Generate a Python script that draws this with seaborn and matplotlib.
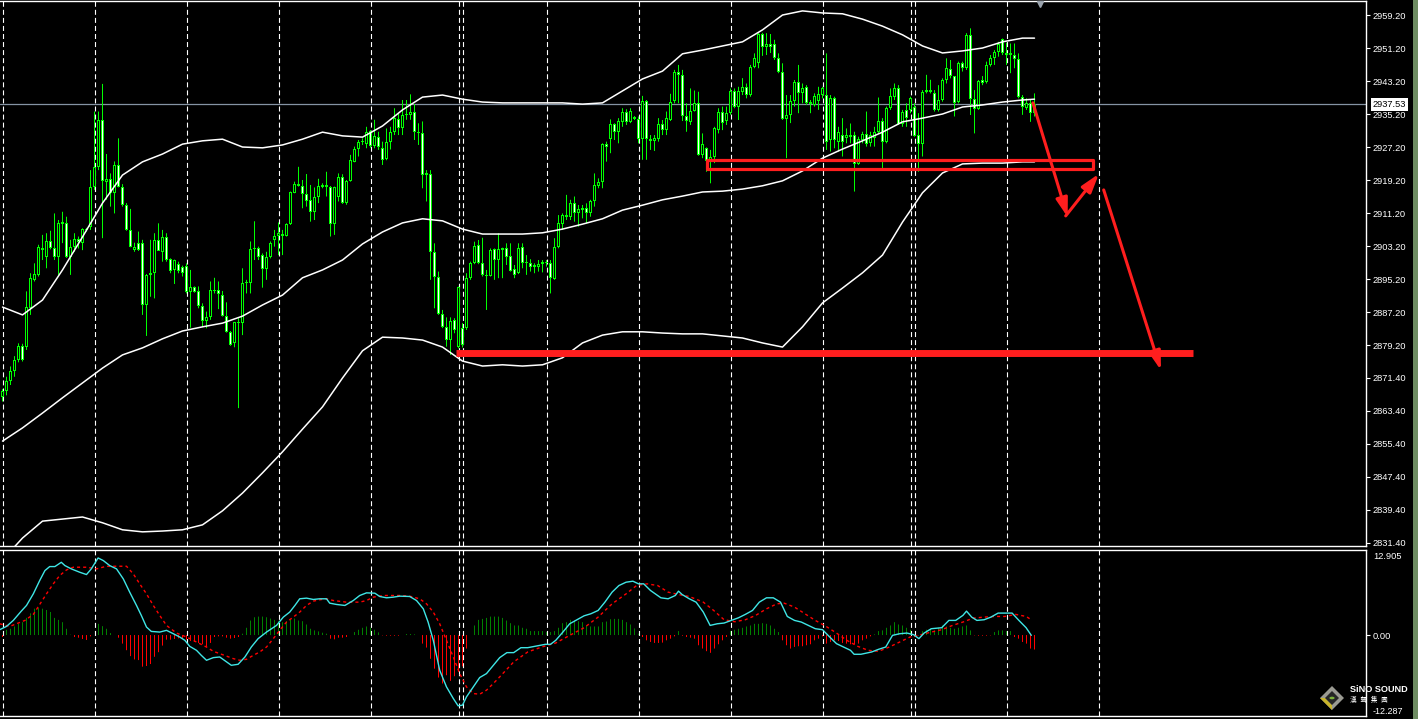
import numpy as np
import pandas as pd
import matplotlib
matplotlib.use("Agg")
import matplotlib.pyplot as plt
import seaborn as sns
from matplotlib.patches import Rectangle, Polygon, Circle
from matplotlib.transforms import blended_transform_factory

# ---- H1 candles (index 0..258) ----
opens = [
    2866.5, 2868.0, 2870.5, 2873.0, 2875.6, 2879.0, 2878.8, 2888.1, 2895.0, 2896.2,
    2902.8, 2900.6, 2904.4, 2902.6, 2900.6, 2908.5, 2908.7, 2900.6, 2902.9, 2904.9,
    2904.0, 2907.1, 2907.9, 2917.6, 2922.3, 2933.75, 2918.8, 2919.4, 2916.0, 2922.8,
    2917.6, 2913.15, 2907.1, 2902.2, 2904.0, 2904.0, 2888.9, 2896.2, 2896.6, 2904.7,
    2901.8, 2905.5, 2900.0, 2897.4, 2898.85, 2898.2, 2898.4, 2892.15, 2893.2, 2892.3,
    2888.75, 2885.1, 2885.9, 2892.5, 2892.5, 2891.3, 2886.3, 2882.4, 2879.6, 2884.7,
    2884.5, 2894.2, 2894.2, 2902.4, 2902.6, 2901.0, 2897.6, 2900.6, 2904.7, 2905.6,
    2906.1, 2905.7, 2908.5, 2916.1, 2918.2, 2917.8, 2915.8, 2914.4, 2911.4, 2915.0,
    2917.6, 2917.9, 2917.4, 2908.5, 2915.2, 2920.0, 2913.6, 2919.05, 2923.65, 2926.7,
    2928.5, 2927.9, 2931.1, 2927.5, 2929.7, 2926.9, 2924.2, 2928.5, 2930.8, 2934.0,
    2931.7, 2935.0, 2935.0, 2935.6, 2930.9, 2930.5, 2920.3, 2920.65, 2901.7, 2895.6,
    2886.7, 2883.5, 2880.3, 2885.25, 2878.8, 2883.25, 2883.25, 2895.4, 2899.0, 2903.45,
    2899.0, 2896.2, 2895.9, 2902.4, 2899.8, 2902.2, 2902.65, 2900.8, 2897.6, 2896.6,
    2903.05, 2899.2, 2899.0, 2898.0, 2898.0, 2898.8, 2899.25, 2899.0, 2895.2, 2902.9,
    2908.55, 2910.7, 2910.3, 2913.55, 2911.3, 2911.9, 2912.35, 2911.1, 2914.0, 2917.8,
    2918.65, 2927.9, 2929.2, 2932.8, 2930.9, 2933.2, 2935.8, 2933.2, 2934.4, 2933.9,
    2929.1, 2938.4, 2929.15, 2928.7, 2929.15, 2932.7, 2931.3, 2933.75, 2938.4, 2945.3,
    2944.7, 2934.8, 2933.2, 2936.0, 2937.8, 2925.3, 2926.9, 2923.7, 2924.9, 2931.3,
    2935.8, 2933.4, 2935.4, 2940.8, 2936.8, 2940.6, 2941.7, 2939.8, 2946.7, 2947.5,
    2954.6, 2951.4, 2952.2, 2952.2, 2948.7, 2945.5, 2933.9, 2935.0, 2938.4, 2943.0,
    2940.2, 2941.7, 2938.0, 2937.4, 2938.35, 2939.8, 2939.8, 2928.9, 2939.0, 2928.5,
    2930.1, 2929.5, 2930.1, 2930.1, 2923.1, 2928.9, 2930.35, 2928.1, 2929.5, 2930.9,
    2933.6, 2928.5, 2936.6, 2939.4, 2941.6, 2932.9, 2936.2, 2936.2, 2937.0, 2930.1,
    2927.85, 2940.6, 2941.0, 2940.4, 2936.2, 2938.6, 2943.45, 2946.0, 2944.3, 2938.2,
    2947.5, 2946.3, 2954.4, 2938.75, 2936.3, 2943.45, 2943.05, 2947.1, 2948.9, 2950.3,
    2953.4, 2949.9, 2949.5, 2949.5, 2948.5, 2939.4, 2936.6, 2937.95, 2935.5,
]
highs = [
    2868.5, 2871.5, 2874.0, 2876.5, 2879.6, 2879.5, 2892.2, 2896.6, 2899.0, 2903.5,
    2905.9, 2906.3, 2906.9, 2911.1, 2909.5, 2911.5, 2910.3, 2904.7, 2906.3, 2905.5,
    2907.5, 2907.6, 2921.6, 2935.8, 2935.8, 2942.5, 2925.5, 2920.8, 2923.7, 2929.3,
    2918.2, 2913.6, 2912.2, 2904.0, 2906.7, 2904.7, 2896.4, 2904.7, 2906.3, 2908.7,
    2907.1, 2906.3, 2900.2, 2899.9, 2899.4, 2898.45, 2899.0, 2897.4, 2893.4, 2893.4,
    2889.3, 2887.3, 2894.6, 2895.5, 2894.6, 2892.3, 2889.55, 2882.6, 2884.8, 2885.7,
    2897.8, 2895.0, 2904.3, 2909.2, 2903.05, 2901.4, 2901.8, 2904.3, 2907.1, 2908.9,
    2907.1, 2908.7, 2916.4, 2918.8, 2922.4, 2919.2, 2920.65, 2918.0, 2917.4, 2919.5,
    2918.4, 2921.2, 2917.75, 2917.6, 2920.8, 2920.6, 2919.2, 2925.3, 2927.3, 2928.9,
    2929.3, 2932.1, 2931.3, 2933.8, 2930.9, 2928.5, 2931.7, 2932.1, 2936.6, 2935.4,
    2938.6, 2938.6, 2939.97, 2937.6, 2932.95, 2933.4, 2921.6, 2921.6, 2903.85, 2897.0,
    2887.7, 2885.9, 2885.9, 2885.7, 2893.35, 2884.5, 2896.6, 2899.4, 2904.25, 2904.65,
    2905.2, 2897.4, 2902.6, 2902.6, 2906.3, 2902.8, 2903.85, 2903.85, 2898.6, 2903.85,
    2903.85, 2901.0, 2900.0, 2899.0, 2899.8, 2899.8, 2899.8, 2899.8, 2905.1, 2910.7,
    2911.1, 2915.6, 2914.4, 2915.2, 2913.15, 2913.15, 2913.55, 2914.4, 2920.8, 2919.6,
    2928.1, 2928.5, 2933.9, 2932.95, 2934.2, 2936.6, 2936.35, 2936.6, 2934.7, 2934.6,
    2939.6, 2938.6, 2930.1, 2930.1, 2934.2, 2933.75, 2935.8, 2940.1, 2945.9, 2947.1,
    2945.9, 2937.8, 2941.4, 2940.9, 2940.6, 2930.5, 2927.1, 2926.5, 2932.1, 2936.6,
    2937.0, 2937.0, 2941.4, 2941.4, 2941.8, 2943.9, 2942.6, 2947.1, 2949.9, 2954.8,
    2954.9, 2954.8, 2954.6, 2953.2, 2949.9, 2947.5, 2939.8, 2939.8, 2943.45, 2947.1,
    2942.6, 2942.2, 2938.6, 2940.2, 2941.8, 2941.8, 2949.9, 2939.8, 2939.4, 2932.1,
    2934.2, 2931.7, 2932.9, 2930.9, 2929.7, 2930.9, 2935.8, 2930.9, 2932.1, 2939.2,
    2934.2, 2937.0, 2941.4, 2942.6, 2942.2, 2936.2, 2937.8, 2939.4, 2937.8, 2935.4,
    2941.0, 2944.7, 2943.5, 2941.0, 2942.2, 2943.85, 2948.7, 2948.3, 2944.4, 2947.9,
    2947.9, 2954.8, 2955.97, 2941.0, 2943.45, 2944.4, 2947.9, 2949.5, 2950.7, 2952.7,
    2953.5, 2952.5, 2952.3, 2952.3, 2949.9, 2939.8, 2939.0, 2938.6, 2940.2,
]
lows = [
    2865.5, 2867.0, 2869.5, 2871.5, 2875.0, 2875.2, 2878.0, 2886.5, 2894.6, 2895.8,
    2899.8, 2897.8, 2902.4, 2899.8, 2896.2, 2903.9, 2900.3, 2896.2, 2901.8, 2902.6,
    2902.2, 2906.7, 2907.1, 2916.8, 2921.6, 2905.1, 2914.4, 2912.75, 2911.1, 2917.4,
    2912.75, 2906.9, 2902.9, 2901.8, 2902.0, 2886.5, 2881.4, 2890.9, 2890.5, 2902.0,
    2899.4, 2899.4, 2896.6, 2894.0, 2896.6, 2895.8, 2891.7, 2883.4, 2891.9, 2888.1,
    2883.7, 2883.25, 2885.3, 2891.7, 2887.9, 2886.1, 2882.2, 2879.0, 2878.65, 2863.9,
    2881.6, 2891.7, 2891.7, 2899.8, 2899.8, 2893.1, 2895.0, 2900.2, 2903.05, 2901.0,
    2901.0, 2905.5, 2908.3, 2916.0, 2917.6, 2912.35, 2912.75, 2909.1, 2909.5, 2913.6,
    2917.2, 2915.2, 2905.5, 2905.9, 2914.0, 2913.4, 2913.2, 2918.8, 2923.5, 2924.9,
    2927.7, 2926.9, 2927.05, 2926.9, 2926.5, 2922.85, 2924.0, 2926.6, 2930.1, 2930.1,
    2930.1, 2933.8, 2933.8, 2928.9, 2927.7, 2917.2, 2914.0, 2895.0, 2888.1, 2886.5,
    2883.3, 2878.8, 2876.8, 2882.05, 2878.4, 2878.6, 2882.85, 2895.0, 2898.8, 2898.8,
    2895.8, 2887.7, 2895.8, 2895.0, 2895.4, 2895.4, 2898.6, 2897.0, 2895.4, 2896.4,
    2897.8, 2896.2, 2897.0, 2896.6, 2897.0, 2896.8, 2898.2, 2891.7, 2895.0, 2902.65,
    2907.1, 2909.5, 2909.5, 2909.1, 2907.9, 2909.9, 2908.7, 2910.3, 2912.75, 2917.2,
    2917.2, 2923.65, 2925.7, 2928.9, 2928.1, 2932.1, 2932.55, 2933.0, 2933.75, 2928.1,
    2924.1, 2924.1, 2926.5, 2926.25, 2928.5, 2930.1, 2930.1, 2933.5, 2937.8, 2937.8,
    2933.5, 2930.9, 2932.55, 2935.8, 2925.1, 2924.5, 2921.2, 2918.4, 2923.3, 2930.5,
    2931.3, 2932.55, 2935.0, 2936.6, 2933.75, 2939.8, 2939.0, 2939.4, 2946.3, 2946.3,
    2949.3, 2949.5, 2950.0, 2948.3, 2945.1, 2933.75, 2924.5, 2933.0, 2937.0, 2935.4,
    2937.8, 2937.4, 2935.4, 2937.0, 2936.2, 2939.0, 2926.5, 2926.1, 2926.9, 2926.1,
    2924.9, 2928.1, 2928.1, 2916.4, 2922.85, 2928.1, 2927.3, 2927.3, 2927.3, 2930.5,
    2922.0, 2928.1, 2936.2, 2938.6, 2932.55, 2932.1, 2932.1, 2935.4, 2929.7, 2921.2,
    2924.9, 2940.2, 2940.2, 2935.8, 2935.8, 2938.2, 2942.6, 2943.85, 2934.6, 2937.8,
    2945.5, 2945.9, 2934.96, 2930.5, 2936.2, 2942.2, 2942.6, 2946.7, 2947.1, 2949.1,
    2949.5, 2947.1, 2945.1, 2946.3, 2939.0, 2935.0, 2936.2, 2933.3, 2934.6,
]
closes = [
    2868.0, 2870.5, 2873.0, 2875.5, 2879.0, 2875.6, 2888.5, 2895.4, 2896.4, 2903.0,
    2902.2, 2904.4, 2902.6, 2900.6, 2908.7, 2908.9, 2900.6, 2902.9, 2904.9, 2904.1,
    2907.25, 2907.4, 2917.6, 2922.3, 2933.75, 2919.05, 2919.4, 2916.0, 2922.8, 2917.6,
    2913.15, 2907.1, 2903.05, 2903.05, 2902.2, 2888.9, 2896.2, 2896.6, 2904.7, 2902.1,
    2905.5, 2899.8, 2897.2, 2899.8, 2897.2, 2896.6, 2892.0, 2893.2, 2892.15, 2888.75,
    2884.9, 2885.9, 2892.5, 2892.3, 2891.5, 2886.3, 2882.4, 2879.2, 2884.7, 2884.5,
    2894.2, 2894.4, 2902.5, 2902.6, 2900.6, 2897.6, 2900.6, 2904.0, 2905.6, 2906.3,
    2905.6, 2908.55, 2916.2, 2918.2, 2917.8, 2915.8, 2914.2, 2911.4, 2915.0, 2917.75,
    2917.9, 2917.5, 2908.5, 2917.4, 2920.0, 2913.6, 2919.05, 2924.05, 2926.7, 2928.5,
    2928.7, 2930.9, 2927.5, 2929.9, 2927.1, 2924.05, 2928.3, 2930.8, 2934.2, 2931.7,
    2934.97, 2935.1, 2935.6, 2930.9, 2930.5, 2920.3, 2920.8, 2901.7, 2895.6, 2886.7,
    2883.5, 2880.4, 2885.1, 2882.85, 2893.2, 2879.2, 2895.4, 2899.2, 2903.3, 2899.0,
    2896.2, 2896.0, 2902.2, 2899.8, 2902.4, 2902.65, 2900.6, 2897.2, 2896.2, 2902.65,
    2899.0, 2899.0, 2898.2, 2898.5, 2898.8, 2899.25, 2899.0, 2895.4, 2902.9, 2908.7,
    2910.7, 2910.3, 2913.55, 2911.3, 2912.1, 2912.35, 2911.1, 2914.1, 2918.0, 2918.65,
    2927.9, 2927.1, 2932.8, 2930.9, 2933.4, 2935.8, 2933.2, 2936.0, 2933.9, 2929.1,
    2938.4, 2929.1, 2928.7, 2929.3, 2932.7, 2931.3, 2934.2, 2938.2, 2945.3, 2944.7,
    2934.8, 2933.4, 2936.0, 2937.8, 2925.3, 2927.9, 2923.7, 2924.9, 2931.7, 2935.8,
    2933.0, 2935.4, 2940.8, 2936.8, 2940.8, 2941.8, 2939.8, 2946.7, 2948.7, 2954.6,
    2951.4, 2952.2, 2951.4, 2948.7, 2945.5, 2933.9, 2935.0, 2938.4, 2943.0, 2940.4,
    2941.4, 2937.8, 2937.6, 2939.6, 2940.05, 2941.4, 2928.5, 2939.0, 2928.9, 2930.9,
    2928.3, 2930.1, 2929.7, 2923.0, 2929.1, 2930.35, 2927.9, 2930.1, 2930.9, 2933.6,
    2928.5, 2936.6, 2939.65, 2941.6, 2932.9, 2935.8, 2934.2, 2939.0, 2929.9, 2927.85,
    2940.6, 2941.0, 2940.6, 2936.2, 2938.6, 2943.45, 2946.3, 2944.3, 2937.95, 2947.5,
    2946.3, 2954.4, 2938.75, 2936.3, 2943.2, 2942.8, 2947.2, 2948.9, 2950.3, 2952.2,
    2949.9, 2949.5, 2949.9, 2948.5, 2939.4, 2936.8, 2937.8, 2935.5, 2937.53,
]

# MACD histogram per candle
macd_hist = [
    -0.3, 0.8, 0.95, 1.3, 1.7, 1.95, 2.6, 3.3, 4.0, 4.1,
    4.0, 3.8, 3.5, 2.6, 2.3, 1.95, 0.95, 0.05, -0.3, -0.4,
    -0.6, -0.75, -0.2, 0.0, 1.7, 1.35, 0.95, 0.3, 0.0, -0.4,
    -1.3, -2.3, -3.2, -3.7, -3.8, -4.8, -4.7, -4.4, -3.3, -2.6,
    -1.6, -0.7, -0.7, -0.6, -0.5, -0.5, -0.7, -0.9, -1.05, -1.2,
    -1.4, -1.8, -1.2, -0.3, -0.2, -0.2, -0.4, -0.55, -0.45, -0.3,
    0.2, 1.1, 2.2, 2.7, 2.8, 2.8, 2.7, 2.5, 2.3, 2.1,
    1.95, 2.1, 2.3, 2.5, 2.2, 2.1, 1.6, 0.95, 0.7, 0.55,
    0.35, 0.2, -0.55, -0.65, -0.4, -0.4, -0.3, 0.0, 0.45, 0.8,
    1.1, 1.3, 1.1, 0.8, 0.4, -0.05, -0.1, -0.1, -0.1, -0.1,
    0.0, 0.15, 0.15, 0.1, 0.0, -1.3, -1.9, -3.6, -5.1, -6.45,
    -7.35, -6.1, -6.95, -6.25, -5.6, -4.75, -2.05, 0.0, 1.45, 2.3,
    2.45, 2.6, 2.8, 2.8, 2.8, 2.6, 2.2, 1.8, 1.45, 1.45,
    1.1, 0.95, 0.6, 0.6, 0.6, 0.6, 0.45, 0.45, 0.6, 1.1,
    1.8, 1.95, 2.3, 2.2, 2.1, 1.95, 1.45, 1.3, 1.3, 1.3,
    1.95, 2.05, 2.4, 2.45, 2.45, 2.3, 1.95, 1.6, 1.0, 0.2,
    -0.3, -0.8, -1.05, -1.2, -1.2, -1.15, -0.8, -0.55, -0.2, 0.6,
    -0.1, -0.3, -0.4, -0.55, -1.55, -2.05, -2.45, -2.7, -2.05, -1.4,
    -0.8, -0.3, 0.6, 0.8, 0.95, 1.1, 1.3, 1.45, 1.7, 1.7,
    1.8, 1.7, 1.45, 0.95, 0.45, -0.8, -1.55, -2.05, -1.8, -1.7,
    -1.7, -1.55, -1.4, -0.8, -0.55, -0.2, -1.3, -1.05, -0.8, -0.9,
    -1.2, -1.3, -1.4, -1.4, -1.3, -0.8, -0.55, -0.2, 0.1, 0.6,
    0.7, 1.1, 1.45, 1.95, 1.6, 1.45, 1.1, 0.8, -0.3, -0.05,
    0.6, 0.8, 0.95, 0.7, 1.1, 1.45, 1.3, 1.1, 0.95, 1.1,
    1.3, 1.45, 0.7, -0.05, -0.1, -0.1, -0.1, -0.05, 0.45, 0.7,
    0.7, 0.6, 0.6, -0.3, -0.55, -1.05, -1.3, -2.05, -2.2,
]

# Bollinger bands, read every 5 bars
band_idx = list(range(0, 256, 5)) + [258]
upper_band = [
    2888.4, 2886.5, 2890.1, 2897.4, 2905.4, 2913.6, 2920.4, 2923.6, 2925.5, 2927.9,
    2928.7, 2929.1, 2927.2, 2927.0, 2927.7, 2929.1, 2930.8, 2929.9, 2929.6, 2932.3,
    2936.2, 2939.3, 2939.8, 2938.8, 2938.1, 2937.9, 2937.9, 2937.9, 2937.9, 2937.6,
    2937.9, 2940.8, 2943.7, 2945.6, 2949.8, 2950.7, 2951.7, 2952.7, 2955.6, 2959.2,
    2960.2, 2959.7, 2959.5, 2958.2, 2956.5, 2954.4, 2951.7, 2950.0, 2950.5, 2951.2,
    2952.7, 2953.6, 2953.6,
]
middle_band = [
    2855.9, 2859.1, 2862.7, 2866.4, 2870.0, 2873.6, 2876.8, 2878.5, 2880.7, 2882.6,
    2883.6, 2884.5, 2886.2, 2888.9, 2891.3, 2895.5, 2897.4, 2899.8, 2903.7, 2906.6,
    2908.8, 2909.8, 2909.3, 2907.3, 2906.1, 2906.1, 2906.1, 2906.4, 2907.3, 2908.5,
    2909.8, 2911.9, 2913.1, 2914.4, 2915.3, 2916.3, 2916.5, 2917.0, 2917.8, 2919.0,
    2921.4, 2924.5, 2926.7, 2928.7, 2930.8, 2933.3, 2934.2, 2935.2, 2936.9, 2937.4,
    2938.1, 2938.6, 2938.8,
]
lower_band = [
    2827.1, 2832.4, 2836.5, 2837.0, 2837.5, 2836.1, 2834.4, 2833.9, 2834.1, 2834.4,
    2835.6, 2839.0, 2843.3, 2848.2, 2853.3, 2858.8, 2864.2, 2871.2, 2877.8, 2881.1,
    2880.9, 2880.4, 2878.7, 2875.3, 2874.1, 2874.4, 2874.1, 2874.4, 2876.1, 2879.7,
    2881.6, 2882.4, 2882.4, 2882.1, 2881.9, 2881.9, 2881.4, 2880.9, 2879.7, 2878.7,
    2883.6, 2889.4, 2893.0, 2896.7, 2901.0, 2909.0, 2916.1, 2920.9, 2923.1, 2923.3,
    2923.3, 2923.6, 2923.6,
]

# MACD main / signal lines as (bar, value)
macd_main = [
    (-0.7, 0.81), (1.0, 1.31), (2.7, 2.22), (4.7, 3.63), (6.0, 4.49), (7.7, 6.25), (9.3, 8.27),
    (10.6, 9.78), (11.8, 10.39), (13.1, 10.39), (14.7, 11.04), (15.6, 10.54), (17.2, 10.04),
    (19.3, 9.53), (21.0, 9.18), (22.2, 10.04), (23.9, 11.7), (25.2, 11.3), (26.8, 10.54),
    (28.5, 10.04), (30.2, 8.52), (31.8, 6.51), (33.5, 4.49), (34.7, 2.98), (36.0, 1.21),
    (37.2, 0.55), (39.3, 0.45), (41.0, 0.71), (42.7, 0.2), (44.3, -0.3), (45.6, -0.81),
    (46.8, -1.71), (48.5, -2.32), (49.7, -3.08), (51.0, -3.83), (52.7, -3.43), (54.3, -3.33),
    (56.0, -4.08), (57.2, -4.59), (58.9, -4.44), (60.6, -3.33), (62.2, -1.82), (63.9, -0.55),
    (66.0, 0.45), (68.5, 1.46), (70.2, 2.72), (71.8, 3.48), (73.1, 4.49), (74.3, 5.5),
    (76.0, 5.6), (77.7, 5.4), (79.3, 5.5), (81.0, 5.5), (81.8, 4.84), (83.5, 4.64),
    (85.6, 4.49), (87.7, 5.24), (89.3, 6.0), (91.0, 6.4), (93.1, 6.35), (94.3, 5.85),
    (96.0, 5.65), (97.7, 5.75), (99.3, 5.9), (101.8, 5.85), (103.5, 5.24), (105.2, 3.98),
    (106.4, 1.97), (107.7, -0.81), (109.3, -5.35), (111.0, -7.87), (112.7, -9.63),
    (113.9, -10.74), (115.0, -10.64), (116.0, -9.38), (117.7, -7.87), (119.3, -6.45),
    (121.0, -5.85), (122.7, -4.59), (124.3, -3.43), (126.1, -2.67), (127.8, -2.67),
    (129.6, -1.92), (131.3, -1.92), (133.1, -1.71), (135.7, -1.41), (137.0, -1.41),
    (138.3, -0.81), (140.1, 0.45), (141.8, 1.71), (143.6, 2.32), (145.4, 2.92), (147.1, 3.23),
    (148.9, 3.73), (150.6, 4.99), (152.4, 6.51), (154.1, 7.51), (155.9, 8.02), (157.6, 8.17),
    (159.0, 7.77), (160.3, 7.77), (162.0, 6.76), (164.6, 5.65), (166.4, 5.5), (168.2, 6.0),
    (169.0, 6.66), (169.9, 6.15), (171.7, 5.5), (173.4, 4.99), (175.2, 3.48), (176.9, 1.46),
    (178.7, 1.71), (180.4, 1.82), (182.2, 2.22), (184.0, 2.62), (185.7, 3.13), (187.5, 3.73),
    (189.2, 4.99), (191.0, 5.65), (192.7, 5.65), (194.5, 4.99), (196.2, 2.82), (198.0, 2.22),
    (199.7, 1.97), (201.5, 1.46), (203.2, 0.96), (205.0, 0.81), (206.8, -0.3), (208.5, -1.31),
    (210.3, -1.82), (212.0, -2.32), (212.9, -2.92), (214.6, -2.92), (217.3, -2.57),
    (219.0, -2.17), (220.8, -1.82), (222.5, -0.05), (224.3, 0.2), (226.1, 0.3), (227.8, 0.05),
    (229.1, -0.55), (230.4, 0.3), (232.2, 0.96), (234.8, 1.11), (236.6, 2.22), (238.3, 2.22),
    (240.1, 2.98), (241.0, 3.63), (242.3, 2.72), (243.6, 2.22), (245.4, 2.32), (247.1, 2.72),
    (248.9, 3.33), (250.6, 3.33), (252.4, 3.33), (254.1, 2.22), (255.9, 1.11), (257.2, -0.05),
]
macd_signal = [
    (-0.7, 1.71), (1.8, 1.31), (3.5, 1.71), (5.6, 2.22), (7.7, 3.13), (9.3, 4.64), (11.0, 6.25),
    (12.7, 7.77), (14.3, 9.03), (16.0, 9.88), (17.7, 10.29), (21.0, 10.29), (23.5, 10.04),
    (26.0, 10.44), (28.5, 10.44), (31.0, 10.44), (32.7, 9.28), (34.3, 7.77), (36.0, 6.25),
    (37.7, 4.49), (39.3, 2.98), (41.0, 1.46), (43.5, 0.3), (46.0, -0.3), (48.5, -1.06),
    (51.0, -1.82), (52.7, -2.47), (54.3, -2.82), (57.7, -3.58), (59.3, -3.83), (61.0, -3.68),
    (62.7, -3.08), (64.3, -2.57), (66.0, -1.82), (67.7, -0.55), (69.3, 0.71), (71.0, 1.97),
    (72.7, 2.72), (74.3, 3.48), (76.0, 4.49), (77.7, 5.14), (79.3, 5.35), (81.0, 5.5),
    (82.7, 5.24), (86.0, 4.99), (89.3, 4.99), (91.0, 5.24), (92.7, 5.75), (95.2, 6.0),
    (99.3, 6.0), (101.8, 5.9), (104.3, 5.5), (106.0, 4.74), (107.7, 3.48), (109.3, 1.71),
    (111.0, -0.81), (112.7, -3.33), (114.3, -5.85), (116.0, -7.87), (117.7, -8.88),
    (119.3, -8.98), (121.0, -8.37), (122.7, -7.36), (124.3, -6.35), (127.8, -4.08),
    (131.3, -2.57), (134.8, -1.82), (138.3, -1.21), (141.8, -0.05), (145.4, 1.11),
    (148.9, 2.72), (152.4, 4.74), (155.9, 6.25), (158.5, 7.51), (161.1, 7.77), (163.8, 7.51),
    (166.4, 6.51), (169.0, 6.15), (171.7, 5.85), (175.2, 4.99), (177.8, 3.73), (180.4, 2.32),
    (183.1, 2.02), (185.7, 2.32), (188.3, 2.98), (191.0, 3.98), (193.6, 4.74), (195.4, 4.84),
    (198.0, 4.24), (200.6, 3.23), (203.2, 2.22), (205.9, 1.31), (208.5, 0.3), (211.1, -0.81),
    (213.8, -1.71), (216.4, -2.32), (219.0, -2.47), (221.7, -1.82), (224.3, -1.06),
    (226.9, -0.3), (229.6, 0.05), (232.2, 0.45), (234.8, 0.81), (237.5, 1.46), (240.1, 1.97),
    (242.7, 2.57), (245.4, 2.72), (248.0, 2.82), (250.6, 2.82), (253.3, 3.13), (255.9, 2.82),
    (257.2, 2.32),
]

# day separators (bar index)
grid_idx = [0, 23, 46, 69, 92, 114, 115, 136, 159, 182, 205, 227, 228, 251, 274]

price_ticks = [2959.2, 2951.2, 2943.2, 2935.2, 2927.2, 2919.2, 2911.2, 2903.2, 2895.2,
               2887.2, 2879.2, 2871.2, 2863.2, 2855.2, 2847.2, 2839.2, 2831.2]
price_labels = ["2959.20", "2951.20", "2943.20", "2935.20", "2927.20", "2919.20", "2911.20",
                "2903.20", "2895.20", "2887.20", "2879.20", "2871.40", "2863.40", "2855.40",
                "2847.40", "2839.40", "2831.40"]
last_price = 2937.53
macd_top, macd_bottom = 12.905, -12.287

# hand-drawn analysis marks
support_level = 2877.15
support_span = (113.3, 297.6)
zone_bars = (176.2, 272.5)
zone_prices = (2921.75, 2924.17)
arrow_paths = [((257.6, 2937.9), (266.3, 2910.2)),
               ((265.8, 2910.5), (274.1, 2920.7)),
               ((275.3, 2916.8), (289.6, 2873.1))]

GREEN = "#00ff00"
RED = "#ff1e1e"
W, H = 1418, 719

sns.set_theme(style="dark", rc={
    "figure.facecolor": "black", "axes.facecolor": "black", "axes.edgecolor": "white",
    "text.color": "white", "xtick.color": "white", "ytick.color": "white", "axes.grid": False,
})
plt.rcParams["font.family"] = ["Liberation Sans", "Noto Sans CJK TC", "DejaVu Sans"]
plt.rcParams["lines.scale_dashes"] = False

fig = plt.figure(figsize=(W / 100, H / 100), dpi=100)
ax = fig.add_axes([0, (H - 546) / H, 1366 / W, 545 / H])
ax2 = fig.add_axes([0, 3 / H, 1366 / W, 166 / H])

# 4 px per bar, bar centres on pixel centres
ylo, yhi = 2830.47, 2962.60
xlo = -0.625
xhi = xlo + 1366 / 4
px = (yhi - ylo) / 545

# price candles: green frame, white body for falling bars, black for rising
df = pd.DataFrame({"o": opens, "h": highs, "l": lows, "c": closes})
df["k"] = np.arange(len(df))
lo = df[["o", "c"]].min(axis=1).to_numpy()
hi = df[["o", "c"]].max(axis=1).to_numpy()
body = np.maximum(hi - lo, px)
ax.vlines(df["k"], df["l"], df["h"], colors=GREEN, lw=0.72, snap=False, zorder=3)
ax.bar(df["k"], body, bottom=lo, width=0.75, color=GREEN, lw=0, zorder=4)
inner = body - 2 * px
m = inner > 0
fill = np.where(df["c"] >= df["o"], "black", "white")
ax.bar(df["k"][m], inner[m], bottom=lo[m] + px, width=0.25, color=fill[m], lw=0, zorder=5)

for band in (upper_band, middle_band, lower_band):
    sns.lineplot(x=band_idx, y=band, ax=ax, color="white", lw=1.1, estimator=None, zorder=6)

for a in (ax, ax2):
    for g in grid_idx:
        a.axvline(g, color="white", lw=0.8, ls=(0, (3.6, 2.2)), zorder=1)

ax.axhline(last_price, color="#8593a3", lw=0.9, zorder=2)

# analysis marks
ax.hlines(support_level, *support_span, color=RED, lw=5, capstyle="butt", zorder=8)
ax.add_patch(Rectangle((zone_bars[0], zone_prices[0]), zone_bars[1] - zone_bars[0],
                       zone_prices[1] - zone_prices[0], fill=False, ec=RED, lw=2.3,
                       joinstyle="round", zorder=8))
for start, end in arrow_paths:
    ax.annotate("", xy=end, xytext=start,
                arrowprops=dict(arrowstyle="-|>,head_length=0.8,head_width=0.25", color=RED,
                                lw=2.2, shrinkA=0, shrinkB=0, mutation_scale=14), zorder=8)
ax.plot([259.3], [2961.9], marker="v", ms=5, color="#9aa3ad", clip_on=False, zorder=9)

# MACD window
hist = np.array(macd_hist)
ax2.vlines(np.arange(len(hist)), 0, hist, colors=np.where(hist >= 0, "#008000", "#ff0000"),
           lw=0.72, snap=False, zorder=2)
mx, my = zip(*macd_main)
sns.lineplot(x=list(mx), y=list(my), ax=ax2, color="#3fe6e6", lw=1.0, estimator=None, zorder=4)
sx, sy = zip(*macd_signal)
sns.lineplot(x=list(sx), y=list(sy), ax=ax2, color="#ff0000", lw=1.0, estimator=None, zorder=3)
ax2.get_lines()[-1].set_linestyle((0, (2.2, 2.2)))

for a in (ax, ax2):
    a.set_xlim(xlo, xhi)
    a.set_xticks([])
    a.set_xlabel("")
    a.set_ylabel("")
    a.yaxis.tick_right()
    a.tick_params(axis="y", direction="out", length=3, width=0.8, colors="white",
                  labelsize=6.7, pad=2)
    a.spines["left"].set_visible(False)
    for s in ("right", "top", "bottom"):
        a.spines[s].set_color("white")
        a.spines[s].set_linewidth(1)

ax.set_ylim(ylo, yhi)
ax.set_yticks(price_ticks)
ax.set_yticklabels(price_labels)
ax2.set_ylim(macd_bottom, macd_top)
ax2.set_yticks([0])
ax2.set_yticklabels(["0.00"])
ax2.text(1.005, 0.985, f"{macd_top:.3f}", transform=ax2.transAxes, va="top", ha="left",
         fontsize=6.7, color="white")
ax2.text(1.005, 0.0, f"{macd_bottom:.3f}", transform=ax2.transAxes, va="bottom", ha="left",
         fontsize=6.5, color="white", zorder=1)

tr = blended_transform_factory(ax.transAxes, ax.transData)
ax.text(1.0051, last_price, f"{last_price:.2f}", transform=tr, va="center", ha="left",
        fontsize=6.7, color="black", clip_on=False,
        bbox=dict(boxstyle="square,pad=0.18", fc="white", ec="none"))

# right frame strip
fig.add_artist(Rectangle((1413 / W, 0), 5 / W, 1, transform=fig.transFigure,
                         color="#6e8c62", lw=0))

# logo
def fpt(x, y):
    return (x / W, 1 - y / H)

fig.add_artist(Polygon([fpt(1332, 686), fpt(1344, 698), fpt(1332, 710), fpt(1320, 698)],
                       closed=True, transform=fig.transFigure, fc="#9a9a92", ec="none"))
fig.add_artist(Polygon([fpt(1320, 698), fpt(1332, 710), fpt(1332, 705), fpt(1325, 698)],
                       closed=True, transform=fig.transFigure, fc="#c9b52a", ec="none"))
fig.add_artist(Polygon([fpt(1332, 691), fpt(1339, 698), fpt(1332, 705), fpt(1325, 698)],
                       closed=True, transform=fig.transFigure, fc="#262626", ec="none"))
fig.add_artist(Circle(fpt(1332, 698), 2.6 / W, transform=fig.transFigure, fc="#7db33a", ec="none"))
fig.text(1350 / W, 1 - 690 / H, "SiNO SOUND", fontsize=6.6, fontweight="bold", color="white",
         va="center", ha="left", zorder=10)
fig.text(1350 / W, 1 - 700.5 / H, "漢  聲  集  團", fontsize=4.8, color="white",
         va="center", ha="left", zorder=10)

fig.savefig("out.png", dpi=100, facecolor="black")
